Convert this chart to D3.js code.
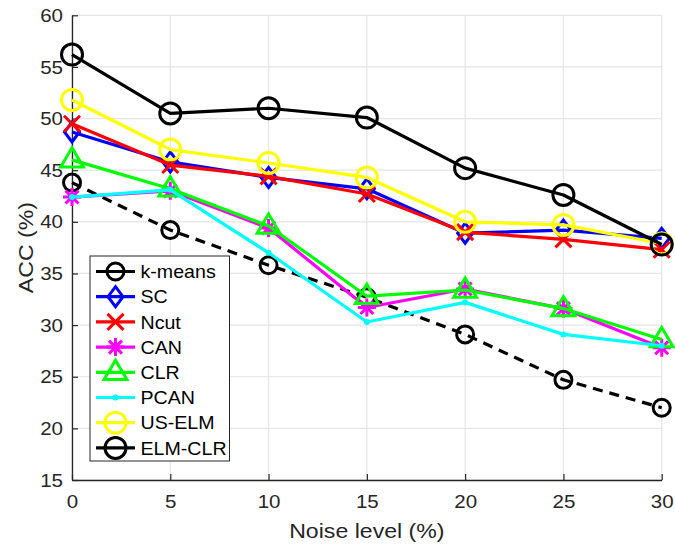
<!DOCTYPE html>
<html>
<head>
<meta charset="utf-8">
<script src="https://cdn.jsdelivr.net/npm/d3@7"></script>
<style>
  html, body { margin: 0; padding: 0; background: #fff; }
  svg { display: block; font-family: "Liberation Sans", Arial, sans-serif; }
</style>
</head>
<body>
<svg id="chart" width="675" height="544"></svg>
<script>
// Noise levels (%) on the x axis
const noise = [0, 5, 10, 15, 20, 25, 30];

// Clustering accuracy (%) for each method
const kmeans = [43.8, 39.2, 35.8, 32.7, 29.1, 24.7, 22.0];
const sc     = [48.7, 45.8, 44.3, 43.2, 38.9, 39.2, 38.4];
const ncut   = [49.5, 45.5, 44.4, 42.7, 39.0, 38.3, 37.3];
const can    = [42.4, 43.0, 39.4, 31.7, 33.5, 31.6, 27.8];
const clr    = [46.0, 43.2, 39.6, 32.8, 33.4, 31.6, 28.6];
const pcan   = [42.4, 43.1, 37.0, 30.3, 32.2, 29.1, 28.0];
const uselm  = [51.8, 47.0, 45.7, 44.3, 40.0, 39.7, 37.9];
const elmclr = [56.2, 50.5, 51.0, 50.1, 45.2, 42.6, 37.8];

const xTicks = [0, 5, 10, 15, 20, 25, 30];
const yTicks = [15, 20, 25, 30, 35, 40, 45, 50, 55, 60];

const series = [
  { name: "k-means", values: kmeans, color: "#000000", marker: "circle", size: 8.5, dash: "10,7" },
  { name: "SC",      values: sc,     color: "#0000ff", marker: "diamond", size: 10 },
  { name: "Ncut",    values: ncut,   color: "#ff0000", marker: "x", size: 8 },
  { name: "CAN",     values: can,    color: "#ff00ff", marker: "star", size: 9 },
  { name: "CLR",     values: clr,    color: "#00ff00", marker: "triangle", size: 12 },
  { name: "PCAN",    values: pcan,   color: "#00ffff", marker: "dot", size: 3 },
  { name: "US-ELM",  values: uselm,  color: "#ffff00", marker: "circle", size: 10.5 },
  { name: "ELM-CLR", values: elmclr, color: "#000000", marker: "circle", size: 10.5 }
];

const svg = d3.select("#chart");
const margin = { left: 72, right: 13.3, top: 15.3, bottom: 64 };
const W = 675, H = 544;

const x = d3.scaleLinear().domain([0, 30]).range([margin.left, W - margin.right]);
const y = d3.scaleLinear().domain([15, 60]).range([H - margin.bottom, margin.top]);

const axisColor = "#262626";

// widen a text element along its baseline
function widen(sel, k) {
  sel.each(function () {
    const len = this.getComputedTextLength();
    d3.select(this).attr("textLength", len * k).attr("lengthAdjust", "spacingAndGlyphs");
  });
}

// grid
const grid = svg.append("g");
grid.selectAll("line.gx").data(xTicks).join("line")
  .attr("x1", d => x(d)).attr("x2", d => x(d))
  .attr("y1", y(15)).attr("y2", y(60))
  .attr("stroke", "#e5e5e5").attr("stroke-width", 1.2);
grid.selectAll("line.gy").data(yTicks).join("line")
  .attr("y1", d => y(d)).attr("y2", d => y(d))
  .attr("x1", x(0)).attr("x2", x(30))
  .attr("stroke", "#e5e5e5").attr("stroke-width", 1.2);

// axes
const xAxis = d3.axisBottom(x).tickValues(xTicks).tickSizeInner(-6).tickSizeOuter(0).tickPadding(15);
const yAxis = d3.axisLeft(y).tickValues(yTicks).tickSizeInner(-6).tickSizeOuter(0).tickPadding(9);

const gx = svg.append("g").attr("transform", `translate(0,${y(15)})`).call(xAxis);
const gy = svg.append("g").attr("transform", `translate(${x(0)},0)`).call(yAxis);
[gx, gy].forEach(g => {
  g.select(".domain").attr("stroke", axisColor).attr("stroke-width", 1.3);
  g.selectAll(".tick line").attr("stroke", axisColor).attr("stroke-width", 1.2);
  g.selectAll(".tick text").attr("fill", axisColor).attr("font-size", 19)
    .attr("font-family", "Liberation Sans, Arial, sans-serif");
});
gx.selectAll(".tick text").attr("dy", "0.71em");
widen(gx.selectAll(".tick text"), 1.08);
widen(gy.selectAll(".tick text"), 1.08);

const xl = svg.append("text")
  .attr("x", (x(0) + x(30)) / 2).attr("y", 538)
  .attr("text-anchor", "middle").attr("fill", axisColor).attr("font-size", 21)
  .text("Noise level (%)");
widen(xl, 1.1);
const yl = svg.append("text")
  .attr("transform", `translate(33,${(y(15) + y(60)) / 2}) rotate(-90)`)
  .attr("text-anchor", "middle").attr("fill", axisColor).attr("font-size", 21)
  .text("ACC (%)");
widen(yl, 1.1);

// marker drawing
function drawMarker(g, s, cx, cy) {
  const r = s.size;
  const common = sel => sel.attr("fill", "none").attr("stroke", s.color).attr("stroke-width", 3);
  switch (s.marker) {
    case "circle":
      common(g.append("circle").attr("cx", cx).attr("cy", cy).attr("r", r));
      break;
    case "diamond":
      common(g.append("path").attr("d", `M${cx},${cy - r}L${cx + r * 0.75},${cy}L${cx},${cy + r}L${cx - r * 0.75},${cy}Z`));
      break;
    case "x":
      common(g.append("path").attr("d", `M${cx - r},${cy - r}L${cx + r},${cy + r}M${cx - r},${cy + r}L${cx + r},${cy - r}`));
      break;
    case "star": {
      const a = r * 0.72;
      common(g.append("path").attr("d",
        `M${cx - r},${cy}L${cx + r},${cy}M${cx},${cy - r}L${cx},${cy + r}` +
        `M${cx - a},${cy - a}L${cx + a},${cy + a}M${cx - a},${cy + a}L${cx + a},${cy - a}`));
      break;
    }
    case "triangle":
      common(g.append("path").attr("d", `M${cx},${cy - r}L${cx + r * 0.95},${cy + r * 0.6}L${cx - r * 0.95},${cy + r * 0.6}Z`));
      break;
    case "dot":
      g.append("circle").attr("cx", cx).attr("cy", cy).attr("r", r).attr("fill", s.color);
      break;
  }
}

const line = d3.line().x(d => x(d[0])).y(d => y(d[1]));

series.forEach(s => {
  const g = svg.append("g");
  const pts = noise.map((n, i) => [n, s.values[i]]);
  g.append("path").attr("d", line(pts))
    .attr("fill", "none").attr("stroke", s.color).attr("stroke-width", 3.2)
    .attr("stroke-dasharray", s.dash || null).attr("stroke-linejoin", "round");
  pts.forEach(p => drawMarker(g, s, x(p[0]), y(p[1])));
});

// legend
const lg = svg.append("g");
const lx = 90, ly = 256, lw = 139.5, lh = 205;
lg.append("rect").attr("x", lx).attr("y", ly).attr("width", lw).attr("height", lh)
  .attr("fill", "#fff").attr("stroke", "#262626").attr("stroke-width", 1);
series.forEach((s, i) => {
  const cy = 271.5 + i * 25.2;
  lg.append("line").attr("x1", 96).attr("x2", 135).attr("y1", cy).attr("y2", cy)
    .attr("stroke", s.color).attr("stroke-width", 3.2);
  drawMarker(lg, s, 115.5, cy);
  const t = lg.append("text").attr("x", 140.5).attr("y", cy).attr("dy", "0.36em")
    .attr("font-size", 18.5).attr("fill", "#000").text(s.name);
  widen(t, 1.06);
});
</script>
</body>
</html>
